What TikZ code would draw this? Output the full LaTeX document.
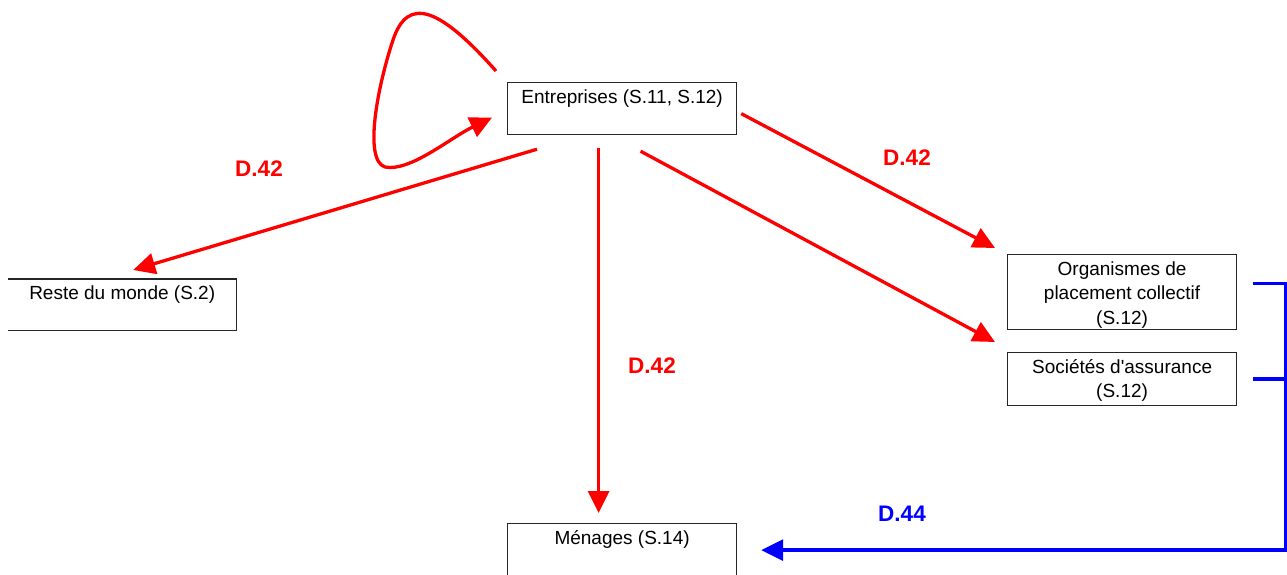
\documentclass[tikz,border=0pt]{standalone}
\usepackage{fontspec}
\setmainfont{Liberation Sans}
\usetikzlibrary{arrows.meta}
\definecolor{pred}{RGB}{255,0,0}
\definecolor{pblue}{RGB}{0,0,255}
\tikzset{
  box/.style={draw=black!85, line width=1.2pt, inner sep=0pt, anchor=north west, font=\fontsize{19}{24.5}\selectfont},
  openbox/.style={inner sep=0pt, anchor=north west, font=\fontsize{19}{24.5}\selectfont},
  redarrow/.style={draw=pred, line width=3.3pt, -{Triangle[length=22pt,width=21pt]}},
  bluearrow/.style={draw=pblue, line width=3.3pt, -{Triangle[length=22pt,width=21pt]}},
  blueline/.style={draw=pblue, line width=3.3pt},
  redlab/.style={text=pred, font=\fontsize{22.5}{26}\selectfont\bfseries, inner sep=0pt},
  bluelab/.style={text=pblue, font=\fontsize{22.5}{26}\selectfont\bfseries, inner sep=0pt},
}
\newcommand{\boxtext}[3]{\parbox[t][#1pt][t]{#2pt}{\centering\rule{0pt}{20.5pt}#3}}
\begin{document}
\begin{tikzpicture}[x=1pt,y=-1pt]
\useasboundingbox (0,0) rectangle (1287,574);
% boxes
\node[box] (ent) at (507,82) {\boxtext{52}{229}{Entreprises (S.11, S.12)}};
\node[openbox] (rdm) at (8,279) {\boxtext{51}{228}{Reste du monde (S.2)}};
\draw[draw=black!85, line width=1.2pt] (rdm.north west) -- (rdm.north east) -- (rdm.south east) -- (rdm.south west);
\node[box] (org) at (1007,254) {\boxtext{75}{229}{Organismes de\\placement collectif\\(S.12)}};
\node[box] (soc) at (1007,352) {\boxtext{53}{229}{Sociétés d\textquotesingle assurance\\(S.12)}};
\node[box] (men) at (507,523) {\boxtext{53}{229}{Ménages (S.14)}};
% red connectors
\draw[redarrow] ([shift={(-11,-11)}]ent.north west)
  .. controls (440,8) and (408,-5) .. (393,40)
  .. controls (378,85) and (363,160) .. (385,167)
  .. controls (410,172) and (450,138) .. ([shift={(-15,9)}]ent.west);
\draw[redarrow] ([shift={(30,14)}]ent.south west) -- ([shift={(11,-9)}]rdm.north);
\draw[redarrow] ([shift={(-23.5,13)}]ent.south) -- ([shift={(-23.5,-10)}]men.north);
\draw[redarrow] ([shift={(4,5)}]ent.east) -- ([shift={(-12,-6)}]org.north west);
\draw[redarrow] ([shift={(18.5,16)}]ent.south) -- ([shift={(-12,-10)}]soc.north west);
% blue connectors
\coordinate (bOrg) at ([shift={(16,-8.5)}]org.east);
\coordinate (bSoc) at ([shift={(16,0)}]soc.east);
\draw[bluearrow] (bOrg) -- ++(32,0) |- ([shift={(24,0)}]men.east);
\draw[blueline] (bSoc) -- ++(32,0);
% labels
\node[redlab] (l1) at (259,169) {D.42};
\node[redlab] (l2) at (907,158) {D.42};
\node[redlab] (l3) at (652,366) {D.42};
\node[bluelab] (l4) at (902,514) {D.44};
\end{tikzpicture}
\end{document}
